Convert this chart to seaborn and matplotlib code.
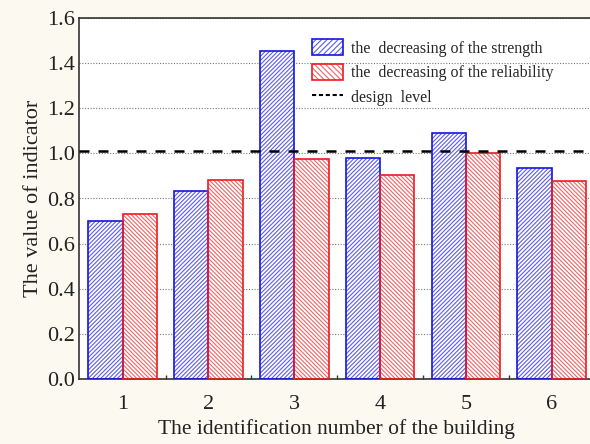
import numpy as np
import pandas as pd
import matplotlib
matplotlib.use("Agg")
import matplotlib.pyplot as plt
import seaborn as sns
from matplotlib.patches import Patch
from matplotlib.lines import Line2D
from matplotlib.legend_handler import HandlerTuple

# Data
buildings = ["1", "2", "3", "4", "5", "6"]
strength = [0.70, 0.833, 1.455, 0.978, 1.092, 0.934]
reliability = [0.733, 0.882, 0.975, 0.904, 1.00, 0.878]
design_level = 1.01
series_labels = ["the  decreasing of the strength",
                 "the  decreasing of the reliability"]
line_label = "design  level"
yticks = [0.0, 0.2, 0.4, 0.6, 0.8, 1.0, 1.2, 1.4, 1.6]

blue, red = "#1515e0", "#ec1c24"
blue_h, red_h = "#5c5ce8", "#f06464"
hatch_b, hatch_r = "////////", "\\" * 8

sns.set_theme(style="white")
plt.rcParams["font.family"] = ["Liberation Serif", "DejaVu Serif"]
plt.rcParams["hatch.linewidth"] = 0.8

fig = plt.figure(figsize=(5.9, 4.44), dpi=100, facecolor="#fcf9f0")
ax = fig.add_axes([79 / 590, 65 / 444, (594.6 - 79) / 590, 361 / 444])
ax.set_facecolor("white")

df = pd.DataFrame({
    "building": buildings * 2,
    "value": strength + reliability,
    "series": [series_labels[0]] * len(buildings) + [series_labels[1]] * len(buildings),
})

# Hatched fill (lighter hatch lines)
sns.barplot(data=df, x="building", y="value", hue="series",
            palette=[blue_h, red_h], saturation=1, width=0.8, gap=0,
            legend=False, ax=ax, zorder=2)
for cont, hc, hatch in zip(ax.containers, [blue_h, red_h], [hatch_b, hatch_r]):
    for bar in cont:
        bar.set_facecolor("white")
        bar.set_edgecolor(hc)
        bar.set_linewidth(0)
        bar.set_hatch(hatch)

# Solid outlines on top
sns.barplot(data=df, x="building", y="value", hue="series",
            palette=[blue, red], saturation=1, width=0.8, gap=0, fill=False,
            linewidth=1.2, legend=False, ax=ax, zorder=3)

ax.axhline(design_level, color="black", lw=1.8, dashes=(4, 3.6), zorder=4)

ax.set_xlim(-0.509, 5.5)
ax.set_ylim(0, 1.6)
ax.set_yticks(yticks)
ax.set_yticklabels([f"{v:.1f}" for v in yticks])
ax.yaxis.grid(True, linestyle=(0, (1, 1.5)), color="#777777", lw=0.8)
ax.set_axisbelow(True)

ax.set_xticks(np.arange(0.5, 5, 1.0), minor=True)
ax.tick_params(axis="x", which="minor", direction="in", length=3, width=1, color="#333333", bottom=True)
ax.tick_params(axis="x", which="major", length=0, pad=11.5, labelsize=16, labelcolor="#222222")
ax.tick_params(axis="y", which="major", length=0, pad=3, labelsize=16, labelcolor="#222222")

for s in ax.spines.values():
    s.set_visible(True)
    s.set_color("#333333")
    s.set_linewidth(1.2)

ax.set_xlabel("The identification number of the building", fontsize=15.5, color="#222222", labelpad=4)
ax.set_ylabel("The value of indicator", fontsize=16, color="#222222", labelpad=3)

handles = [
    (Patch(facecolor="white", edgecolor=blue_h, hatch="//////", lw=0),
     Patch(facecolor="none", edgecolor=blue, lw=1.2)),
    (Patch(facecolor="white", edgecolor=red_h, hatch="\\" * 6, lw=0),
     Patch(facecolor="none", edgecolor=red, lw=1.2)),
    Line2D([], [], color="black", lw=1.5, linestyle=(0, (2, 1.3))),
]
ax.legend(handles, series_labels + [line_label], loc="upper left",
          bbox_to_anchor=(312 / 590, 1 - 39 / 444), bbox_transform=fig.transFigure,
          handler_map={tuple: HandlerTuple(ndivide=1, pad=0)},
          frameon=False, borderpad=0, borderaxespad=0, fontsize=11.5,
          handlelength=1.95, handleheight=1.2, handletextpad=0.5, labelspacing=0.45)

fig.savefig("out.png", dpi=100, facecolor=fig.get_facecolor())
